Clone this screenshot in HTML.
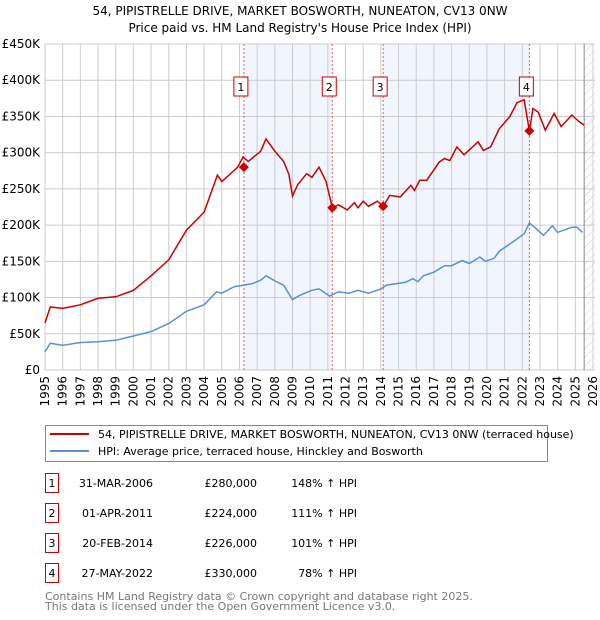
<!DOCTYPE html>
<html><head><meta charset="utf-8"><style>
body{margin:0;background:#fff;font-family:"DejaVu Sans","Liberation Sans",sans-serif;}
svg{display:block}
text{font-family:"DejaVu Sans","Liberation Sans",sans-serif;}
</style></head><body>
<svg id="c" width="600" height="620">
<g id="g"></g>
</svg>
<script>
const years=[1995,1995.3,1996,1997,1998,1999,2000,2001,2002,2003,2004,2004.75,2005,2005.9,2006.2,2006.5,2007.2,2007.5,2008,2008.5,2008.8,2009,2009.3,2009.8,2010.1,2010.5,2010.9,2011.25,2011.6,2012.1,2012.5,2012.7,2013,2013.3,2013.8,2014.13,2014.5,2015.1,2015.7,2015.9,2016.2,2016.6,2017.3,2017.6,2017.9,2018.3,2018.7,2019.5,2019.8,2020.2,2020.7,2021.3,2021.7,2022.1,2022.4,2022.6,2022.9,2023.3,2023.8,2024.2,2024.8,2025.2,2025.5];
const priceK=[65,87,85,90,99,101,110,130,152,193,218,269,260,280,294,288,302,319,302,288,270,240,256,271,266,280,260,224,228,221,231,224,233,226,233,226,241,239,255,248,262,262,287,292,289,308,297,315,303,308,333,350,369,373,330,361,356,331,354,336,352,343,338];
const hpiYears=[1995,1995.3,1996,1997,1998,1999,2000,2001,2002,2003,2004,2004.7,2005,2005.7,2006.2,2006.7,2007.2,2007.5,2008,2008.5,2009,2009.4,2010.1,2010.5,2011.1,2011.6,2012.2,2012.7,2013.3,2014,2014.3,2015.4,2015.8,2016.1,2016.4,2017,2017.6,2018,2018.6,2019,2019.6,2019.9,2020.4,2020.7,2021.6,2022.1,2022.4,2022.7,2023.2,2023.7,2024,2024.8,2025.1,2025.4];
const hpiK=[25,37,34,38,39,41,47,53,64,81,90,108,106,115,117,119,124,130,123,117,97,103,110,112,102,108,106,110,106,112,117,121,126,122,130,135,144,144,151,147,156,150,154,164,179,188,203,197,186,199,190,197,197,190];
const saleYears=[2006.25,2011.25,2014.13,2022.4];
const saleK=[280,224,226,330];
const saleLabels=["1","2","3","4"];
const yTicks=[0,50,100,150,200,250,300,350,400,450];
const yTickLabels=["£0","£50K","£100K","£150K","£200K","£250K","£300K","£350K","£400K","£450K"];
const xTicks=[1995,1996,1997,1998,1999,2000,2001,2002,2003,2004,2005,2006,2007,2008,2009,2010,2011,2012,2013,2014,2015,2016,2017,2018,2019,2020,2021,2022,2023,2024,2025,2026];

const X0=45,X1=593,Y0=370,Y1=44;
const xs=y=>X0+(y-1995)/31*(X1-X0);
const ys=v=>Y0-v/450*(Y0-Y1);
const NS="http://www.w3.org/2000/svg";
const g=document.getElementById('g');
function mk(t,a,txt){const e=document.createElementNS(NS,t);for(const k in a)e.setAttribute(k,a[k]);if(txt!=null)e.textContent=txt;g.appendChild(e);return e;}

let e;
e=mk('text',{x:300,y:15,'text-anchor':'middle','font-size':12,fill:'#000'},'54, PIPISTRELLE DRIVE, MARKET BOSWORTH, NUNEATON, CV13 0NW');


e=mk('text',{x:300,y:32,'text-anchor':'middle','font-size':12,fill:'#000'},"Price paid vs. HM Land Registry's House Price Index (HPI)");



// shaded ranges
[[0,1],[2,3]].forEach(p=>{
 e=mk('rect',{x:xs(saleYears[p[0]]),y:Y1,width:xs(saleYears[p[1]])-xs(saleYears[p[0]]),height:Y0-Y1,fill:'#eef3fc',opacity:0.8});
 
 
});
// hatch future
const defs=document.createElementNS(NS,'defs');
defs.innerHTML='<pattern id="h" width="6" height="6" patternUnits="userSpaceOnUse" patternTransform="rotate(45)"><line x1="0" y1="0" x2="0" y2="6" stroke="#ccc" stroke-width="1"/></pattern>';
document.getElementById('c').insertBefore(defs,g);
e=mk('rect',{x:xs(2025.5),y:Y1,width:X1+2-xs(2025.5),height:Y0-Y1,fill:'url(#h)'});



yTicks.forEach((v,i)=>{
 e=mk('line',{x1:X0,x2:X1+2,y1:ys(v),y2:ys(v),stroke:'#ccc','stroke-width':1});
 
 
 e=mk('text',{x:40,y:ys(v)+4,'text-anchor':'end','font-size':12,fill:'#000'},yTickLabels[i]);
 
 
});
xTicks.forEach(y=>{
 e=mk('line',{x1:xs(y),x2:xs(y),y1:Y1,y2:Y0,stroke:'#ccc','stroke-width':1});
 
 
 e=mk('text',{x:0,y:0,'text-anchor':'end','font-size':12,fill:'#000',transform:`translate(${xs(y)+4},376) rotate(-90)`},String(y));
 
 
});
e=mk('line',{x1:xs(2025.5),x2:xs(2025.5),y1:Y1,y2:Y0,stroke:'#888','stroke-width':1});



saleYears.forEach((y,i)=>{
 e=mk('line',{x1:xs(y),x2:xs(y),y1:Y1,y2:Y0,stroke:'#e06060','stroke-width':1,'stroke-dasharray':'2,2'});
 
 
});

const pathOf=(xa,va)=>xa.map((y,i)=>(i?'L':'M')+xs(y).toFixed(1)+','+ys(va[i]).toFixed(1)).join('');
e=mk('path',{d:pathOf(hpiYears,hpiK),fill:'none',stroke:'#5b8fd6','stroke-width':1.5});


e=mk('path',{d:pathOf(years,priceK),fill:'none',stroke:'#cc0000','stroke-width':1.5});



saleYears.forEach((y,i)=>{
 const cx=xs(y),cy=ys(saleK[i]);
 e=mk('path',{d:`M${cx},${cy-5}L${cx+5},${cy}L${cx},${cy+5}L${cx-5},${cy}Z`,fill:'#cc0000'});
 
 
 e=mk('rect',{x:cx-10,y:77,width:14,height:19,fill:'#fff',stroke:'#cc0000','stroke-width':1});
 
 
 e=mk('text',{x:cx-3,y:91,'text-anchor':'middle','font-size':11,fill:'#000'},saleLabels[i]);
 
 
});

// legend
e=mk('rect',{x:45.5,y:425.5,width:502,height:36,fill:'#fff',stroke:'#888','stroke-width':1});


e=mk('line',{x1:50,x2:89,y1:434,y2:434,stroke:'#cc0000','stroke-width':2});


e=mk('text',{x:98,y:438,'font-size':11,fill:'#000'},'54, PIPISTRELLE DRIVE, MARKET BOSWORTH, NUNEATON, CV13 0NW (terraced house)');


e=mk('line',{x1:50,x2:89,y1:451,y2:451,stroke:'#5b8fd6','stroke-width':2});


e=mk('text',{x:98,y:455,'font-size':11,fill:'#000'},'HPI: Average price, terraced house, Hinckley and Bosworth');



const tDates=["31-MAR-2006","01-APR-2011","20-FEB-2014","27-MAY-2022"];
const tPrices=["£280,000","£224,000","£226,000","£330,000"];
const tPct=["148% ↑ HPI","111% ↑ HPI","101% ↑ HPI","78% ↑ HPI"];
tDates.forEach((d,i)=>{
 const cy=483+i*30;
 e=mk('rect',{x:45.5,y:cy-9.5,width:13,height:19,fill:'#fff',stroke:'#cc0000','stroke-width':1});
 
 
 e=mk('text',{x:52,y:cy+4,'text-anchor':'middle','font-size':11,fill:'#000'},saleLabels[i]);
 
 
 e=mk('text',{x:153,y:cy+4,'text-anchor':'end','font-size':11,fill:'#000'},d);
 
 
 e=mk('text',{x:257,y:cy+4,'text-anchor':'end','font-size':11,fill:'#000'},tPrices[i]);
 
 
 e=mk('text',{x:357,y:cy+4,'text-anchor':'end','font-size':11,fill:'#000'},tPct[i]);
 
 
});
e=mk('text',{x:45,y:600,'font-size':11,fill:'#777'},'Contains HM Land Registry data © Crown copyright and database right 2025.');


e=mk('text',{x:45,y:610,'font-size':11,fill:'#777'},'This data is licensed under the Open Government Licence v3.0.');


</script>
</body></html>
